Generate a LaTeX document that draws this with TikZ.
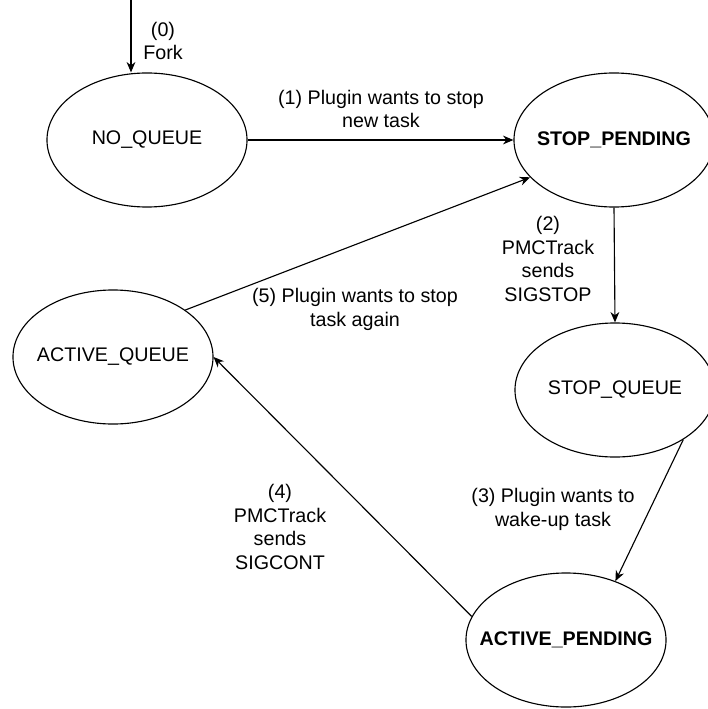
\documentclass[tikz,border=0pt]{standalone}
\usepackage{fontspec}
\setmainfont{Liberation Sans}
\usepackage{tikz}
\usetikzlibrary{arrows.meta, positioning, shapes.geometric, calc}

\begin{document}
\begin{tikzpicture}[
    x=0.025cm, y=-0.025cm,
    font=\fontsize{14}{17}\selectfont,
    state/.style={draw, ellipse, line width=0.8pt, minimum width=5cm, minimum height=3.35cm, inner xsep=-1.5cm, inner ysep=0pt, align=center},
    boldstate/.style={state, font=\fontsize{14}{17}\selectfont\bfseries},
    lbl/.style={align=center, inner sep=1pt},
    arrow/.style={-{Stealth[length=2.6mm, width=2.2mm]}, line width=0.8pt},
]
\useasboundingbox (0,0) rectangle (708,709);

% States
\node[state] (noqueue) at (147,140) {NO\_QUEUE};
\node[boldstate] (stoppending) at (614,140) {STOP\_PENDING};
\node[state] (stopqueue) at (615,390) {STOP\_QUEUE};
\node[state] (activequeue) at (113,357) {ACTIVE\_QUEUE};
\node[boldstate] (activepending) at (566,640) {ACTIVE\_PENDING};

% Transitions
\coordinate (fork) at (131,0);
\draw[arrow] (fork) -- (fork |- noqueue.north);
\draw[arrow] (noqueue.east) -- (stoppending.west);
\draw[arrow] (stoppending.south) -- (stopqueue.north);
\draw[arrow] (stopqueue.-36) -- (activepending.50);
\draw[arrow] (activepending.166) -- (activequeue.east);
\draw[arrow] (activequeue.33) -- (stoppending.204);

% Labels
\node[lbl] (lfork) at (163,41) {(0)\\Fork};
\node[lbl] (lplugin) at (381,109) {(1) Plugin wants to stop\\new task};
\node[lbl] (lsigstop) at (548,259) {(2)\\PMCTrack\\sends\\SIGSTOP};
\node[lbl] (lwake) at (553,509) {(3) Plugin wants to\\wake-up task};
\node[lbl] (lsigcont) at (280,527) {(4)\\PMCTrack\\sends\\SIGCONT};
\node[lbl] (lagain) at (355,309) {(5) Plugin wants to stop\\task again};
\end{tikzpicture}
\end{document}
